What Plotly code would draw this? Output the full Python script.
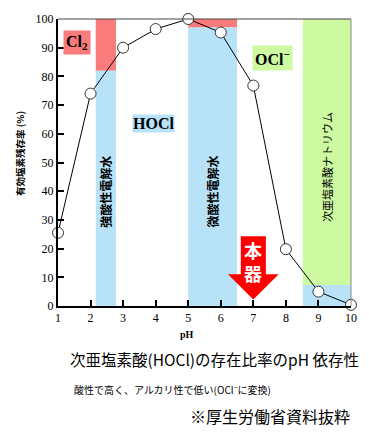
import plotly.graph_objects as go

# ---- data ----
ph = [1, 2, 3, 4, 5, 6, 7, 8, 9, 10]
hocl_ratio = [25.5, 74, 90, 96.5, 100, 95.3, 76.8, 19.8, 5, 0.4]
x_ticks = [1, 2, 3, 4, 5, 6, 7, 8, 9, 10]
y_ticks = [0, 10, 20, 30, 40, 50, 60, 70, 80, 90, 100]

# bands: pH ranges and split levels
strong_band = [2.16, 2.78]
strong_split = 82
weak_band = [5.0, 6.5]
weak_split = 97
naocl_band = [8.52, 10.0]
naocl_split = 7.3
device_ph = 7

RED = "#fa7b7b"
BLUE = "#b8e2f8"
GREEN = "#cdf9a0"

JP = "Noto Sans CJK JP"
SERIF = "Times New Roman, Liberation Serif, DejaVu Serif, serif"

fig = go.Figure()

fig.add_trace(go.Scatter(
    x=ph, y=hocl_ratio, mode="lines+markers",
    line=dict(color="black", width=1),
    marker=dict(size=11, color="white", line=dict(color="#333333", width=1)),
    cliponaxis=False, showlegend=False, hoverinfo="skip"))

shapes = []
def band(rng, split, top_col, bot_col):
    shapes.append(dict(type="rect", xref="x", yref="y", x0=rng[0], x1=rng[1],
                       y0=split, y1=100, fillcolor=top_col, line=dict(width=0), layer="below"))
    shapes.append(dict(type="rect", xref="x", yref="y", x0=rng[0], x1=rng[1],
                       y0=0, y1=split, fillcolor=bot_col, line=dict(width=0), layer="below"))

band(strong_band, strong_split, RED, BLUE)
band(weak_band, weak_split, RED, BLUE)
band(naocl_band, naocl_split, GREEN, BLUE)

# thin top / right frame
shapes.append(dict(type="line", xref="paper", yref="paper", x0=0, x1=1, y0=1, y1=1,
                   line=dict(color="#444444", width=1)))
shapes.append(dict(type="line", xref="paper", yref="paper", x0=1, x1=1, y0=0, y1=1,
                   line=dict(color="#888888", width=1)))

# red arrow for device (本器)
d = device_ph
arrow_path = (f"M {d-0.385} 24.3 L {d+0.385} 24.3 L {d+0.385} 11.1 L {d+0.78} 11.1 "
              f"L {d} 2.3 L {d-0.78} 11.1 L {d-0.385} 11.1 Z")
shapes.append(dict(type="path", xref="x", yref="y", path=arrow_path,
                   fillcolor="#ff0000", line=dict(width=0), layer="above"))

annotations = [
    dict(x=1.57, y=91.9, xref="x", yref="y", text="<b>Cl<sub>2</sub></b>", showarrow=False,
         font=dict(family=SERIF, size=16, color="black"), bgcolor=RED, borderpad=2),
    dict(x=3.92, y=63.7, xref="x", yref="y", text="<b>HOCl</b>", showarrow=False,
         font=dict(family=SERIF, size=16, color="black"), bgcolor=BLUE, borderpad=0),
    dict(x=7.58, y=86.3, xref="x", yref="y", text="<b>OCl<sup>−</sup></b>", showarrow=False,
         font=dict(family=SERIF, size=16, color="black"), bgcolor=GREEN, borderpad=2),
    dict(x=sum(strong_band) / 2, y=39.8, xref="x", yref="y", text="<b>強酸性電解水</b>",
         textangle=-90, showarrow=False, font=dict(family=JP, size=12, color="black")),
    dict(x=sum(weak_band) / 2, y=39.8, xref="x", yref="y", text="<b>微酸性電解水</b>",
         textangle=-90, showarrow=False, font=dict(family=JP, size=12, color="black")),
    dict(x=9.26, y=48.4, xref="x", yref="y", text="次亜塩素酸ナトリウム",
         textangle=-90, showarrow=False, font=dict(family=JP, size=11, color="black")),
    dict(x=d, y=15.6, xref="x", yref="y", text="<b>本<br>器</b>", showarrow=False,
         xanchor="center", yanchor="middle", font=dict(family=JP, size=18, color="white")),
    # axis titles
    dict(x=-0.130, y=0.533, xref="paper", yref="paper", text="<b>有効塩素残存率 (%)</b>",
         textangle=-90, showarrow=False, xanchor="center", yanchor="middle",
         font=dict(family=JP, size=9.5, color="black")),
    dict(x=0.44, y=-0.10, xref="paper", yref="paper", text="<b>pH</b>",
         showarrow=False, xanchor="center", yanchor="middle",
         font=dict(family=SERIF, size=10, color="black")),
    # captions
    dict(x=0.033, y=-0.183, xref="paper", yref="paper", xanchor="left", yanchor="middle",
         text="次亜塩素酸(HOCl)の存在比率のpH 依存性", showarrow=False,
         font=dict(family=JP, size=15.5, color="black")),
    dict(x=0.047, y=-0.291, xref="paper", yref="paper", xanchor="left", yanchor="middle",
         text="酸性で高く、アルカリ性で低い(OCl<sup>−</sup>に変換)", showarrow=False,
         font=dict(family=JP, size=10, color="black")),
    dict(x=1.003, y=-0.384, xref="paper", yref="paper", xanchor="right", yanchor="middle",
         text="※厚生労働省資料抜粋", showarrow=False,
         font=dict(family=JP, size=16, color="black")),
]

fig.update_layout(
    width=369, height=433,
    margin=dict(l=58, r=12, t=17, b=127),
    paper_bgcolor="white", plot_bgcolor="white",
    shapes=shapes, annotations=annotations, showlegend=False,
    xaxis=dict(range=[1, 10], tickvals=x_ticks, showgrid=False, zeroline=False,
               showline=True, linecolor="black", linewidth=2,
               ticks="inside", ticklen=6, tickwidth=1.5, tickcolor="black",
               tickfont=dict(family=SERIF, size=12, color="black")),
    yaxis=dict(range=[0, 100], tickvals=y_ticks, showgrid=False, zeroline=False,
               showline=True, linecolor="black", linewidth=2,
               ticks="inside", ticklen=6, tickwidth=1.5, tickcolor="black",
               tickfont=dict(family=SERIF, size=12, color="black")),
)

fig.write_html("out.html", config={"displayModeBar": False},
               post_script="document.body.style.margin='0px';")
